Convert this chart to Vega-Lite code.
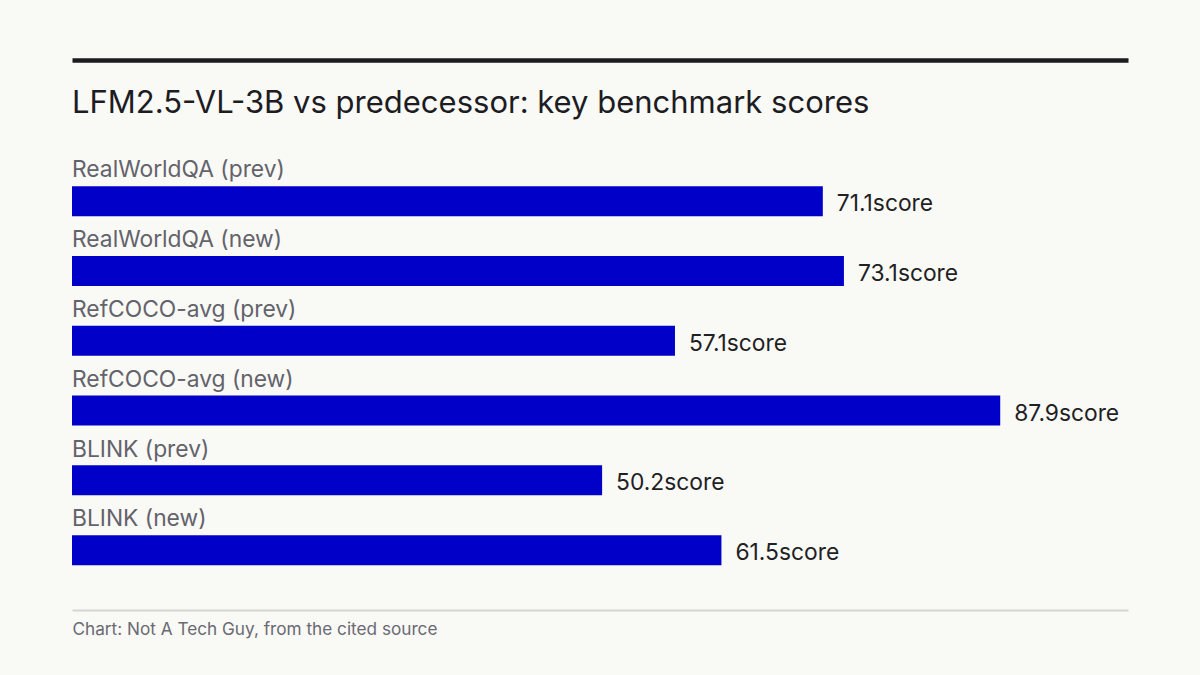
{
  "$schema": "https://vega.github.io/schema/vega-lite/v6.json",
  "width": 1056,
  "height": 550,
  "autosize": {"type": "none"},
  "padding": {"left": 72, "top": 60, "right": 72, "bottom": 65},
  "background": "#f9f9f6",
  "config": {"view": {"stroke": null}, "font": "Inter"},
  "title": {
    "text": "LFM2.5-VL-3B vs predecessor: key benchmark scores",
    "anchor": "start",
    "frame": "group",
    "orient": "top",
    "offset": 0,
    "baseline": "alphabetic",
    "dy": 84,
    "font": "Inter",
    "fontSize": 31,
    "fontWeight": "normal",
    "color": "#1c1c22"
  },
  "data": {
    "values": [
      {"benchmark": "RealWorldQA (prev)", "score": 71.1},
      {"benchmark": "RealWorldQA (new)", "score": 73.1},
      {"benchmark": "RefCOCO-avg (prev)", "score": 57.1},
      {"benchmark": "RefCOCO-avg (new)", "score": 87.9},
      {"benchmark": "BLINK (prev)", "score": 50.2},
      {"benchmark": "BLINK (new)", "score": 61.5}
    ]
  },
  "transform": [
    {"calculate": "format(datum.score, '.1f') + 'score'", "as": "score_label"}
  ],
  "encoding": {
    "y": {
      "field": "benchmark",
      "type": "nominal",
      "sort": null,
      "scale": {"paddingInner": 0, "paddingOuter": 0.94, "align": 0.81},
      "axis": null
    }
  },
  "layer": [
    {
      "mark": {"type": "bar", "height": 30, "color": "#0000c8"},
      "encoding": {
        "x": {
          "field": "score",
          "type": "quantitative",
          "scale": {"domain": [0, 100], "nice": false},
          "axis": {
            "orient": "bottom",
            "title": "Chart: Not A Tech Guy, from the cited source",
            "titleAnchor": "start",
            "titleAlign": "left",
            "titleFontSize": 17.2,
            "titleFontWeight": "normal",
            "titleColor": "#6a6a72",
            "titlePadding": 10,
            "labels": false,
            "ticks": false,
            "grid": false,
            "domainColor": "#d6d6d0",
            "domainWidth": 2
          }
        }
      }
    },
    {
      "mark": {"type": "text", "align": "left", "baseline": "alphabetic", "dx": 14, "dy": 10, "fontSize": 22.8, "color": "#1f1f24"},
      "encoding": {
        "x": {"field": "score", "type": "quantitative", "axis": null},
        "text": {"field": "score_label"}
      }
    },
    {
      "mark": {"type": "text", "align": "left", "baseline": "alphabetic", "dy": -23.7, "fontSize": 22.8, "color": "#63636b"},
      "encoding": {
        "x": {
          "datum": 0,
          "type": "quantitative",
          "axis": {
            "orient": "top",
            "title": null,
            "labels": false,
            "ticks": false,
            "grid": false,
            "domainColor": "#1b1b21",
            "domainWidth": 4.5
          }
        },
        "text": {"field": "benchmark"}
      }
    }
  ],
  "resolve": {"axis": {"x": "independent"}}
}
